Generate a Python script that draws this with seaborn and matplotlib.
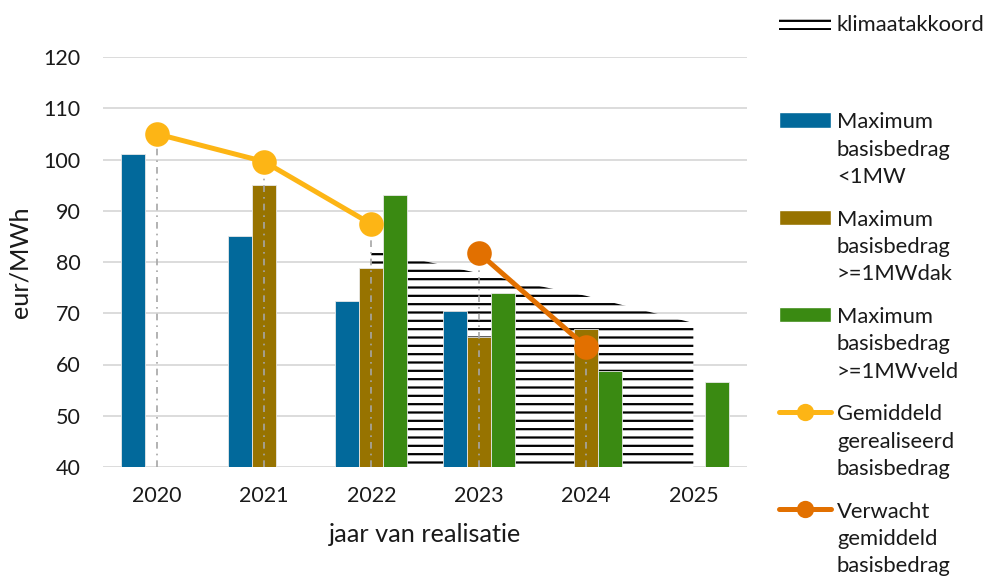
import matplotlib
matplotlib.use("Agg")
import matplotlib.pyplot as plt
import seaborn as sns
import pandas as pd
import numpy as np

# categories
years = ["2020", "2021", "2022", "2023", "2024", "2025"]

# maximum basisbedrag per category (NaN = no bar)
max_lt1mw = [101.0, 85.0, 72.3, 70.4, np.nan, np.nan]
max_dak = [np.nan, 95.0, 78.8, 65.4, 66.9, np.nan]
max_veld = [np.nan, np.nan, 93.0, 73.9, 58.8, 56.6]

# realised / expected averages
gem_years = ["2020", "2021", "2022"]
gem_values = [105.0, 99.6, 87.4]
verw_years = ["2023", "2024"]
verw_values = [81.8, 63.5]

# klimaatakkoord trajectory
klimaat_years = ["2022", "2023", "2024", "2025"]
klimaat_values = [82.5, 77.8, 73.4, 68.1]

bar_names = [
    "Maximum\nbasisbedrag\n<1MW",
    "Maximum\nbasisbedrag\n>=1MWdak",
    "Maximum\nbasisbedrag\n>=1MWveld",
]
bar_colors = ["#02699B", "#977300", "#3A8A12"]
gem_color = "#FDB515"
verw_color = "#E27000"
text_color = "#1a1a1a"
FS_TICK = 15.5
FS_LEG = 15.8
FS_LABEL = 18.2


def main():
    sns.set_style("white")
    plt.rcParams["font.family"] = ["Lato", "DejaVu Sans"]
    plt.rcParams["hatch.linewidth"] = 1.6

    bars = pd.DataFrame({
        "jaar": years * 3,
        "reeks": sum([[n] * len(years) for n in bar_names], []),
        "waarde": max_lt1mw + max_dak + max_veld,
    }).dropna()

    fig = plt.figure(figsize=(9.88, 5.77), dpi=100)
    ax = fig.add_axes([103 / 988, 1 - 467 / 577, 644 / 988, 410 / 577])

    # klimaatakkoord hatched area behind the bars
    kx = [years.index(y) for y in klimaat_years]
    area = ax.fill_between(kx, 40, klimaat_values, facecolor="white",
                           edgecolor="black", hatch="--", linewidth=0,
                           zorder=1)

    sns.barplot(data=bars, x="jaar", y="waarde", hue="reeks",
                order=years, hue_order=bar_names, palette=bar_colors,
                width=0.67, gap=0, saturation=1, errorbar=None,
                legend=False, ax=ax, zorder=2, linewidth=0.6,
                edgecolor="#e8e8e8")

    # drop lines from the markers
    drop_x = [years.index(y) for y in gem_years + verw_years]
    ax.vlines(drop_x, 40, gem_values + verw_values, colors="#a6a6a6",
              linestyles=(0, (4, 3, 1, 3)), linewidth=1.2, zorder=3)

    n_before = len(ax.lines)
    sns.pointplot(x=gem_years, y=gem_values, order=years, color=gem_color,
                  errorbar=None, markers="o", markersize=15, linewidth=3.6,
                  ax=ax, zorder=4)
    sns.pointplot(x=verw_years, y=verw_values, order=years,
                  color=verw_color, errorbar=None, markers="o",
                  markersize=15, linewidth=3.6, ax=ax, zorder=4)
    gem_line, verw_line = ax.lines[n_before:n_before + 2]

    ax.set_xlim(-0.5, 5.5)
    ax.set_ylim(40, 120)
    ax.set_yticks(range(40, 121, 10))
    ax.yaxis.grid(True, color="#d9d9d9", linewidth=1.3)
    ax.set_axisbelow(True)
    for s in ax.spines.values():
        s.set_visible(False)
    ax.tick_params(axis="y", length=0, pad=16, labelsize=FS_TICK,
                   labelcolor=text_color)
    ax.tick_params(axis="x", length=0, pad=14, labelsize=FS_TICK,
                   labelcolor=text_color)
    ax.set_xlabel("jaar van realisatie", fontsize=FS_LABEL,
                  color=text_color, labelpad=12)
    ax.set_ylabel("eur/MWh", fontsize=FS_LABEL, color=text_color,
                  labelpad=9)

    handles = [area] + [
        plt.Rectangle((0, 0), 1, 1, facecolor=c) for c in bar_colors
    ] + [gem_line, verw_line]
    labels = ["klimaatakkoord\n\n"] + bar_names + [
        "Gemiddeld\ngerealiseerd\nbasisbedrag",
        "Verwacht\ngemiddeld\nbasisbedrag",
    ]
    leg = fig.legend(handles, labels, loc="upper left",
                     bbox_to_anchor=(779 / 988, 1 - 15 / 577),
                     frameon=False, fontsize=FS_LEG, borderpad=0,
                     borderaxespad=0, handlelength=2.37, handletextpad=0.27,
                     labelspacing=1.03, markerscale=0.65)
    for t in leg.get_texts():
        t.set_linespacing(1.46)
        t.set_color(text_color)
    for col in leg._legend_handle_box.get_children():
        for row in col.get_children():
            row.align = "top"

    fig.savefig("out.png", dpi=100)


if __name__ == "__main__":
    main()
